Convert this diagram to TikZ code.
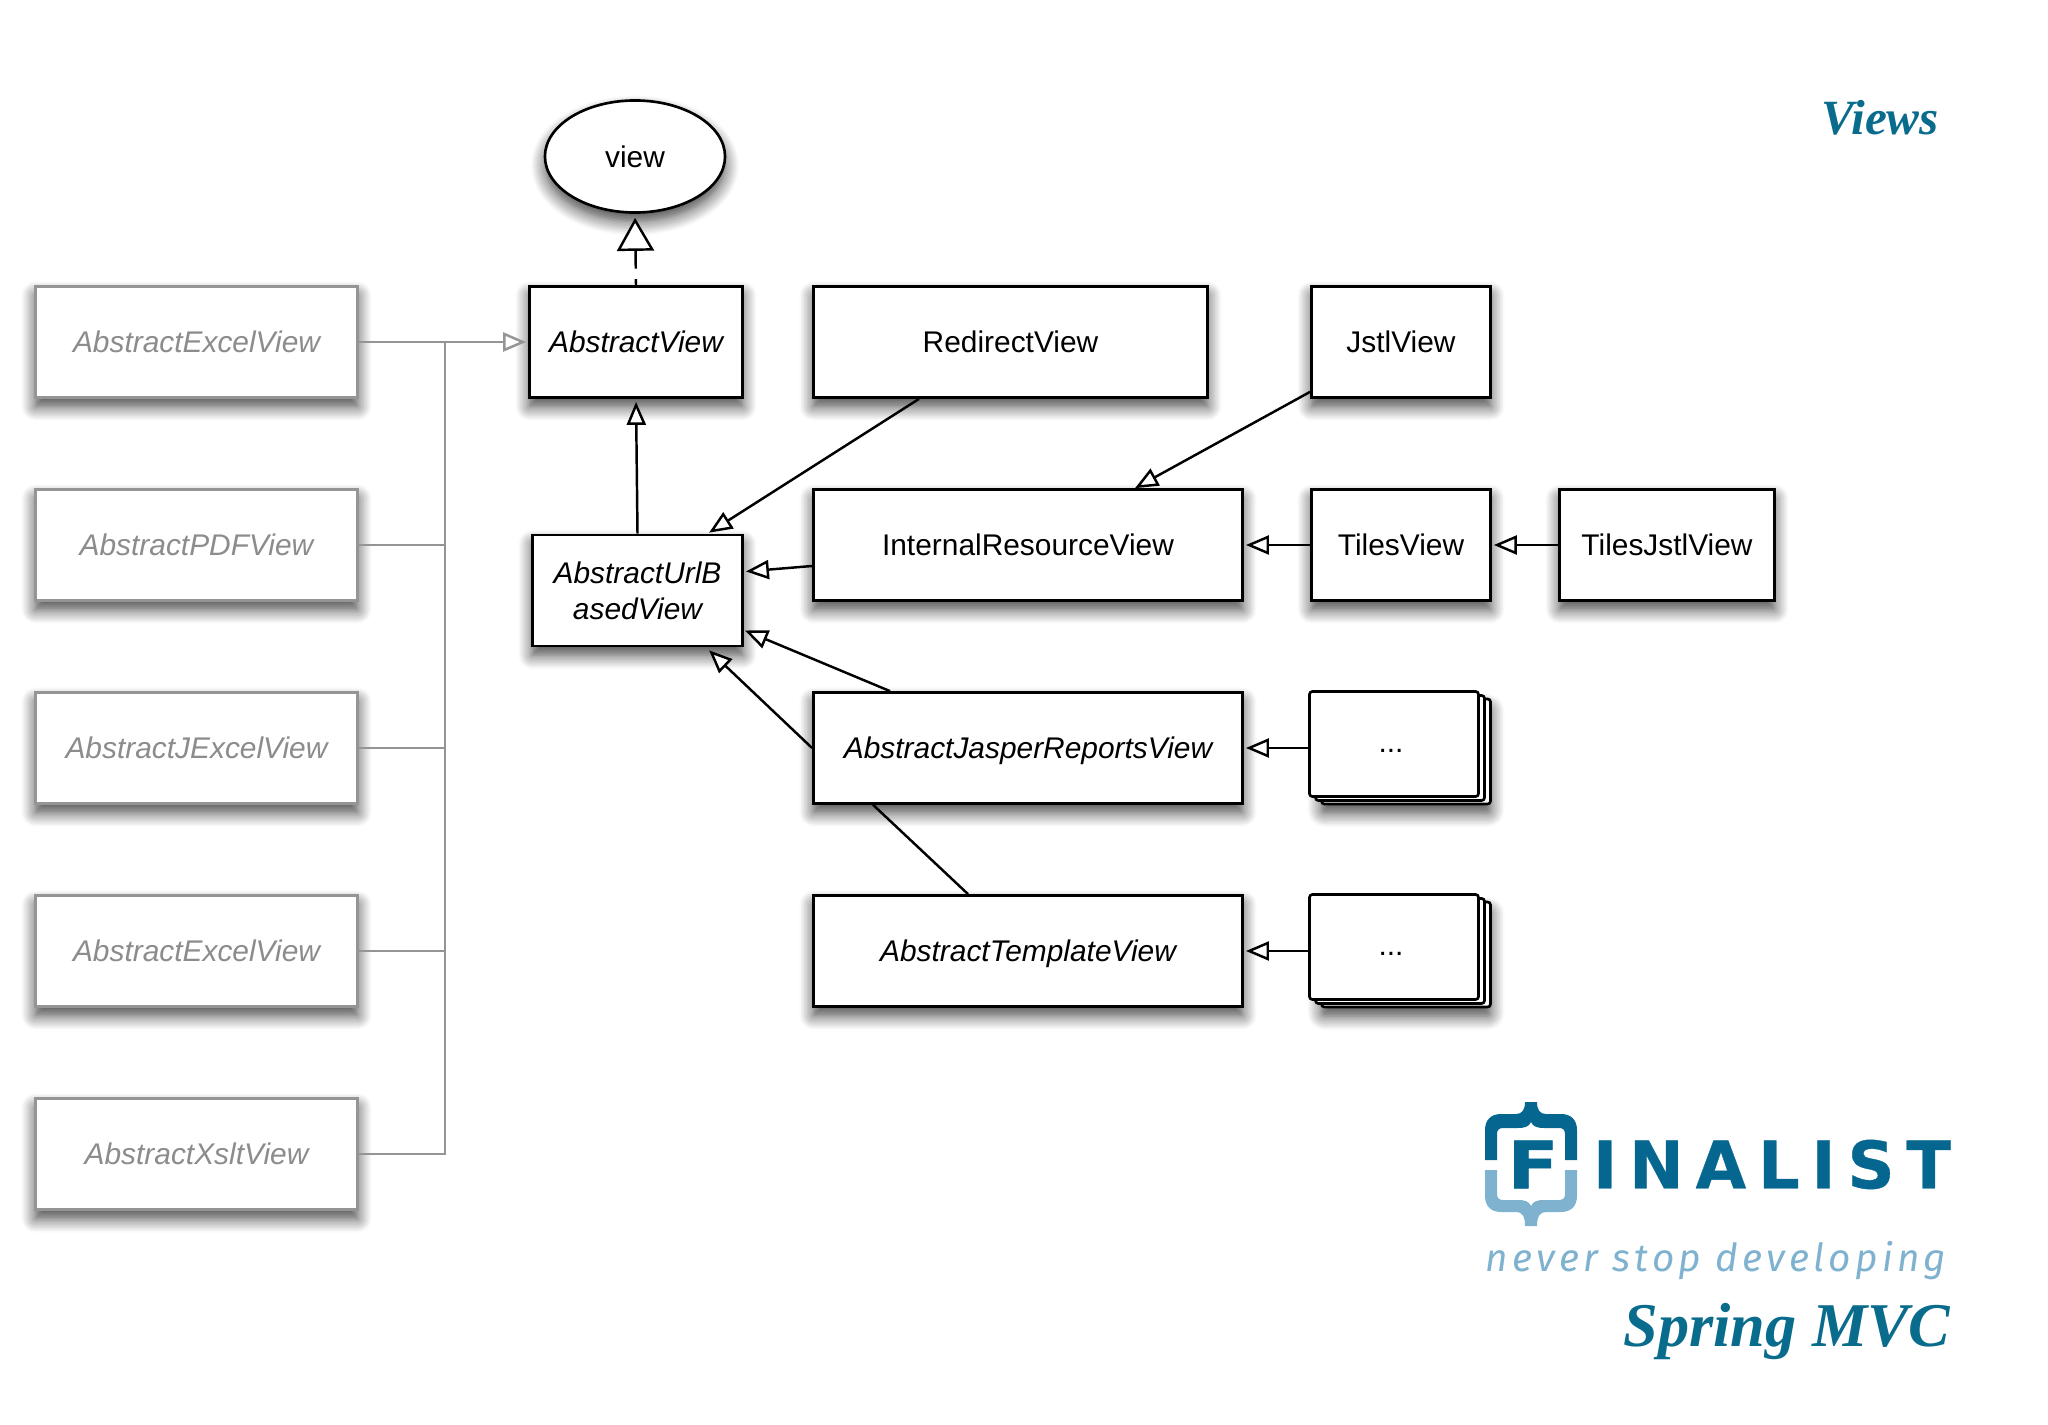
\documentclass[tikz,border=0pt]{standalone}
\usepackage{fontspec}
\setmainfont{Liberation Sans}
\newfontfamily\titlefont{Liberation Serif}
\newfontfamily\logofont[LetterSpace=18,BoldFeatures={FakeBold=0.5}]{DejaVu Sans}
\newfontfamily\slogfont[LetterSpace=11]{Fira Sans}
\usetikzlibrary{arrows.meta,shapes.geometric,shadows,shadows.blur}
\definecolor{logodark}{HTML}{05668F}
\definecolor{logolight}{HTML}{7FB2CF}
\definecolor{titleteal}{HTML}{0A6C8C}
\definecolor{greyline}{HTML}{959595}
\definecolor{greytext}{HTML}{8C8C8C}
\newcommand{\labelfont}{\fontsize{8.5}{10.2}\selectfont}
\newcommand{\stackdots}{\smash{\raisebox{-2.3pt}{...}}\kern1.7pt}
\tikzset{
  softshadow/.style={blur shadow={shadow xshift=0pt,shadow yshift=-0.09cm,shadow blur radius=0.14cm,shadow blur steps=10,shadow opacity=75}},
  viewbox/.style={draw,line width=0.75pt,fill=white,softshadow,minimum height=1.11cm,inner sep=0pt,align=center},
  abstractbox/.style={viewbox,font=\labelfont\itshape},
  oldbox/.style={abstractbox,draw=greyline,text=greytext,minimum width=3.22cm},
  morebox/.style={draw,line width=0.75pt,fill=white,rounded corners=0.03cm,minimum width=1.69cm,minimum height=1.05cm,inner sep=0pt},
  inherit/.style={line width=0.7pt,-{Triangle[open,fill=white,length=0.23cm,width=0.19cm]}},
  oldinherit/.style={inherit,draw=greyline},
  oldline/.style={draw=greyline,line width=0.7pt}
}
\begin{document}
\begin{tikzpicture}[x=0.01cm,y=-0.01cm]
\tikzstyle{every node}=[font=\labelfont]
\useasboundingbox (0,0) rectangle (2048,1425);
%\draw [red!40](0,0) grid[step=1cm] (2048,1425);

\node (view) at (635,156.5) [ellipse,draw,line width=0.75pt,fill=white,softshadow,minimum width=1.8cm,minimum height=1.12cm,inner sep=0pt] {view};
\node (AbstractView) at (636,342) [abstractbox,minimum width=2.13cm] {AbstractView};
\node (RedirectView) at (1010.5,342) [viewbox,minimum width=3.94cm] {RedirectView};
\node (JstlView) at (1401,342) [viewbox,minimum width=1.79cm] {JstlView};
\node (AbstractUrlBasedView) at (637.5,590.5) [abstractbox,minimum width=2.1cm] {AbstractUrlB\\asedView};
\node (InternalResourceView) at (1028,545) [viewbox,minimum width=4.29cm] {InternalResourceView};
\node (TilesView) at (1401,545) [viewbox,minimum width=1.79cm] {TilesView};
\node (TilesJstlView) at (1667,545) [viewbox,minimum width=2.15cm] {TilesJstlView};
\node (AbstractJasperReportsView) at (1028,748) [abstractbox,minimum width=4.29cm,text depth=0pt] {AbstractJasperReportsView};
\node (AbstractTemplateView) at (1028,951) [abstractbox,minimum width=4.29cm,text depth=0pt] {AbstractTemplateView};

% the views that are shown in grey
\node (ExcelViewA) at (196.5,342) [oldbox] {AbstractExcelView};
\node (PDFView) at (196.5,545) [oldbox] {AbstractPDFView};
\node (JExcelView) at (196.5,748) [oldbox] {AbstractJExcelView};
\node (ExcelViewB) at (196.5,951) [oldbox] {AbstractExcelView};
\node (XsltView) at (196.5,1154) [oldbox] {AbstractXsltView};

% stacks of three
\node (JasperBack) at (1406,751.5) [morebox,softshadow] {};
\node (JasperMid) at (1400,748) [morebox] {};
\node (JasperMore) at (1394,744) [morebox] {\stackdots};
\node (TemplateBack) at (1406,954.5) [morebox,softshadow] {};
\node (TemplateMid) at (1400,951) [morebox] {};
\node (TemplateMore) at (1394,947) [morebox] {\stackdots};

\draw [inherit,dash pattern=on 1.7pt off 3pt on 40pt,-{Triangle[open,fill=white,length=0.33cm,width=0.37cm]},shorten >=0.04cm] (AbstractView.north) -- (view.south);
\draw [inherit,shorten >=0.03cm] (AbstractUrlBasedView.north) -- (AbstractView.south);
\draw [inherit] ([shift={(107,0)}]RedirectView.south west) -- ([shift={(178,-1)}]AbstractUrlBasedView.north west);
\draw [inherit] ([shift={(0,-7)}]JstlView.south west) -- ([shift={(323,0)}]InternalResourceView.north west);
\draw [inherit] ([shift={(0,21)}]InternalResourceView.west) -- ([shift={(2,-19)}]AbstractUrlBasedView.east);
\draw [inherit] ([shift={(78,0)}]AbstractJasperReportsView.north west) -- ([shift={(1,40)}]AbstractUrlBasedView.east);
\draw [inherit] (AbstractJasperReportsView.west) -- ([shift={(178,3)}]AbstractUrlBasedView.south west);
\draw [line width=0.7pt] ([shift={(156,0)}]AbstractTemplateView.north west) -- ([shift={(61,0)}]AbstractJasperReportsView.south west);
\draw [inherit,shorten >=0.02cm] (TilesView.west) -- (InternalResourceView.east);
\draw [inherit,shorten >=0.02cm] (TilesJstlView.west) -- (TilesView.east);
\draw [inherit,shorten >=0.02cm] (JasperMore.west |- AbstractJasperReportsView.east) -- (AbstractJasperReportsView.east);
\draw [inherit,shorten >=0.02cm] (TemplateMore.west |- AbstractTemplateView.east) -- (AbstractTemplateView.east);

\coordinate (trunk) at (ExcelViewA.east -| 445,0);
\draw [oldinherit,shorten >=0.02cm] (ExcelViewA.east) -- (AbstractView.west);
\draw [oldline] (XsltView.east) -| (trunk);
\draw [oldline] (PDFView.east) -- (PDFView.east -| trunk);
\draw [oldline] (JExcelView.east) -- (JExcelView.east -| trunk);
\draw [oldline] (ExcelViewB.east) -- (ExcelViewB.east -| trunk);

\node (Views) at (1880,118) [font=\fontsize{14}{17}\selectfont\titlefont\bfseries\itshape,text=titleteal,inner sep=0pt] {Views};
\node (SpringMVC) at (1787,1332) [font=\fontsize{17.7}{20}\selectfont\titlefont\bfseries\itshape,text=titleteal,inner sep=0pt] {Spring MVC};

% logo
\fill [logodark] (1485,1160) -- (1485,1130) .. controls (1485,1120) and (1491,1114) .. (1501,1114) -- (1516,1114) .. controls (1522,1114) and (1525,1110) .. (1525,1102) -- (1537,1102) .. controls (1537,1110) and (1540,1114) .. (1546,1114) -- (1561,1114) .. controls (1571,1114) and (1577,1120) .. (1577,1130) -- (1577,1160) -- (1565,1160) -- (1565,1134) .. controls (1565,1130) and (1563,1128) .. (1559,1128) -- (1544,1128) .. controls (1538,1128) and (1533,1127) .. (1531,1122) .. controls (1529,1127) and (1524,1128) .. (1518,1128) -- (1503,1128) .. controls (1499,1128) and (1497,1130) .. (1497,1134) -- (1497,1160) -- cycle;
\fill [logolight] (1485,1170) -- (1485,1196) .. controls (1485,1206) and (1491,1212) .. (1501,1212) -- (1516,1212) .. controls (1522,1212) and (1525,1216) .. (1525,1226) -- (1537,1226) .. controls (1537,1216) and (1540,1212) .. (1546,1212) -- (1561,1212) .. controls (1571,1212) and (1577,1206) .. (1577,1196) -- (1577,1170) -- (1565,1170) -- (1565,1194) .. controls (1565,1198) and (1563,1200) .. (1559,1200) -- (1544,1200) .. controls (1538,1200) and (1533,1201) .. (1531,1206) .. controls (1529,1201) and (1524,1200) .. (1518,1200) -- (1503,1200) .. controls (1499,1200) and (1497,1198) .. (1497,1194) -- (1497,1170) -- cycle;
\node (LogoF) at (1533,1164.5) [font=\fontsize{18.6}{20}\selectfont\logofont\bfseries,text=logodark,inner sep=0pt] {\scalebox{1.15}[1]{F}};
\node (LogoName) at (1772,1164.5) [font=\fontsize{18.6}{20}\selectfont\logofont\bfseries,text=logodark,inner sep=0pt] {INALIST};
\node (LogoSlogan) at (1716,1261) [font=\fontsize{11}{13}\selectfont\slogfont\itshape,text=logolight,inner sep=0pt] {never stop developing};
\end{tikzpicture}
\end{document}
